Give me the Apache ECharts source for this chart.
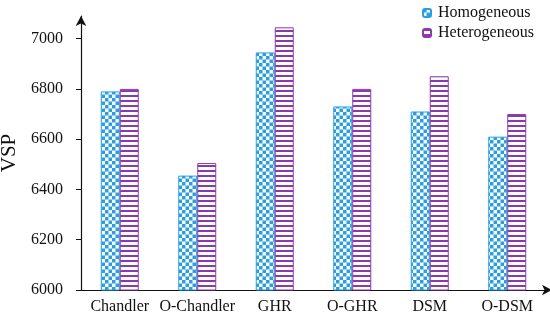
<!DOCTYPE html>
<html><head><meta charset="utf-8">
<script src="https://cdn.jsdelivr.net/npm/echarts@6/dist/echarts.min.js"></script>
<style>html,body{margin:0;padding:0;background:#fff}#c{width:550px;height:321px}</style>
</head><body><div id="c"></div>
<script>
var categories = ['Chandler','O-Chandler','GHR','O-GHR','DSM','O-DSM'];
var homogeneous = [6790, 6455, 6945, 6730, 6710, 6610];
var heterogeneous = [6800, 6505, 7045, 6800, 6850, 6700];
var seriesNames = ['Homogeneous','Heterogeneous'];

var BLUE = '#2a9fe0', PURPLE = '#8a3aaa';
function checker(){
  var c = document.createElement('canvas'); c.width = 7; c.height = 7;
  var g = c.getContext('2d'); g.fillStyle = '#fff'; g.fillRect(0,0,7,7);
  g.fillStyle = BLUE; g.fillRect(0,0,3.5,3.5); g.fillRect(3.5,3.5,3.5,3.5);
  return c;
}
function stripes(){
  var c = document.createElement('canvas'); c.width = 5; c.height = 5;
  var g = c.getContext('2d'); g.fillStyle = '#fff'; g.fillRect(0,0,5,5);
  g.fillStyle = PURPLE; g.fillRect(0,0,5,2);
  return c;
}
var pBlue = {image: checker(), repeat: 'repeat'};
var pPurple = {image: stripes(), repeat: 'repeat'};
var font = '"Liberation Serif","Times New Roman",serif';
var chart = echarts.init(document.getElementById('c'));
chart.setOption({
  animation: false,
  textStyle: {fontFamily: font},
  legend: {
    orient: 'vertical', right: 16, top: 5, itemWidth: 8, itemHeight: 8, itemGap: 4, padding: 0,
    textStyle: {fontFamily: font, fontSize: 16, color: '#111', padding: [0,0,0,2]},
    data: seriesNames
  },
  grid: {left: 81, right: 4, top: 16, bottom: 31, containLabel: false, outerBoundsMode: 'none'},
  xAxis: {
    type: 'category', data: categories,
    axisLine: {lineStyle: {color: '#111', width: 1.2}, symbol: ['none','arrow'], symbolSize: [8, 10], symbolOffset: [0, 6]},
    axisTick: {lineStyle: {color: '#111'}, length: 4},
    axisLabel: {fontFamily: font, fontSize: 16, color: '#111', margin: 9, interval: 0}
  },
  yAxis: {
    type: 'value', min: 6000, max: 7090, interval: 200,
    name: 'VSP', nameLocation: 'middle', nameGap: 53, nameRotate: 90,
    nameTextStyle: {fontFamily: font, fontSize: 21, color: '#111'},
    splitLine: {show: false},
    axisLine: {show: true, lineStyle: {color: '#111', width: 1.2}, symbol: ['none','arrow'], symbolSize: [8, 10]},
    axisTick: {show: true, inside: false, length: 5, lineStyle: {color: '#111'}},
    axisLabel: {fontFamily: font, fontSize: 16, color: '#111', margin: 18, showMaxLabel: false,
      formatter: function(v){ return String(v); }}
  },
  series: [
    {name: seriesNames[0], type: 'bar', data: homogeneous, barWidth: 19, barGap: '0%',
     itemStyle: {color: pBlue, borderColor: BLUE, borderWidth: 1}},
    {name: seriesNames[1], type: 'bar', data: heterogeneous, barWidth: 19, barGap: '0%',
     itemStyle: {color: pPurple, borderColor: PURPLE, borderWidth: 1}}
  ]
});
</script></body></html>
